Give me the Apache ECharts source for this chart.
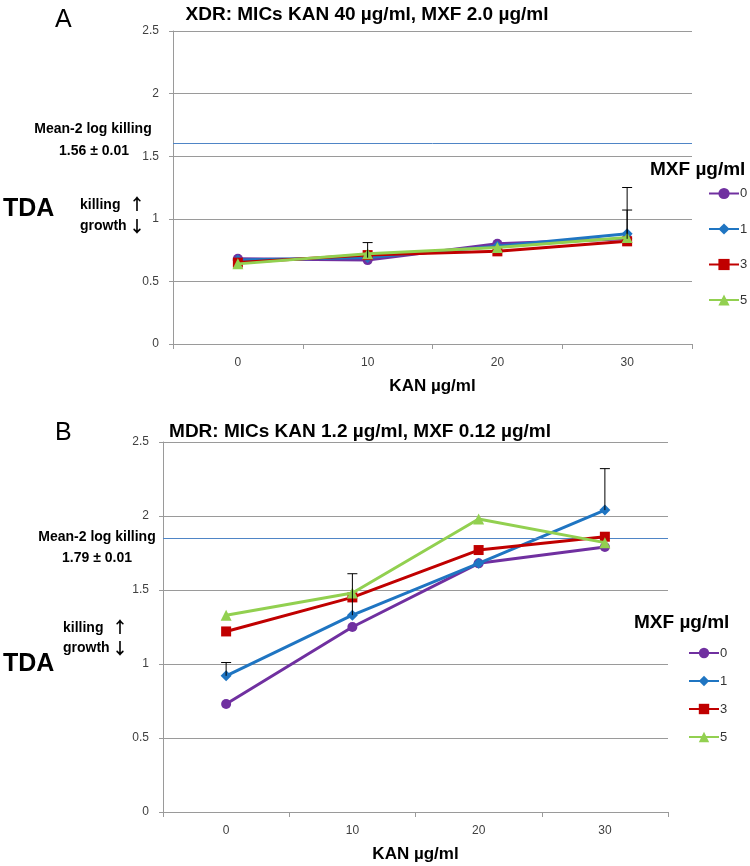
<!DOCTYPE html>
<html>
<head>
<meta charset="utf-8">
<script src="https://cdn.jsdelivr.net/npm/echarts@6/dist/echarts.min.js"></script>
<style>html,body{margin:0;padding:0;background:#fff}#c{width:750px;height:866px}</style>
</head>
<body>
<div id="c"></div>
<script>
// ---- data ----
const categories = ['0', '10', '20', '30'];
const mxfNames = ['0', '1', '3', '5'];
const yTicks = [0, 0.5, 1, 1.5, 2, 2.5];

// Panel A (XDR)
const A_mxf0 = [0.68, 0.67, 0.80, 0.84];
const A_mxf1 = [0.67, 0.69, 0.78, 0.88];
const A_mxf3 = [0.65, 0.71, 0.74, 0.82];
const A_mxf5 = [0.64, 0.72, 0.77, 0.85];
const A_err1Top = [null, 0.81, null, 1.25];
const A_err0Top = [null, null, null, 1.07];
const A_mean = 1.60;

// Panel B (MDR)
const B_mxf0 = [0.73, 1.25, 1.68, 1.79];
const B_mxf1 = [0.92, 1.33, 1.68, 2.04];
const B_mxf3 = [1.22, 1.45, 1.77, 1.86];
const B_mxf5 = [1.33, 1.48, 1.98, 1.82];
const B_err1Top = [1.01, 1.61, null, 2.32];
const B_mean = 1.85;

// ---- styles ----
const FONT = 'Liberation Sans';
const colors = ['#7030A0', '#1F75C2', '#C00000', '#92D050'];
const symbols = ['circle', 'diamond', 'rect', 'triangle'];
const symSizes = [10, 11, 10, 11];
const gridGrey = '#9a9a9a';

const chart = echarts.init(document.getElementById('c'), null, {renderer: 'canvas'});

function lineSeries(name, data, i, axisIdx, meanVal) {
  const s = {
    name: name, type: 'line', data: data,
    xAxisIndex: axisIdx, yAxisIndex: axisIdx,
    symbol: symbols[i], symbolSize: symSizes[i],
    lineStyle: {color: colors[i], width: 3},
    itemStyle: {color: colors[i]},
    z: 3 + i, animation: false
  };
  if (meanVal !== undefined) {
    s.markLine = {
      silent: true, symbol: 'none', label: {show: false},
      lineStyle: {color: '#4f85c6', width: 1, type: 'solid'},
      data: [{yAxis: meanVal}]
    };
  }
  return s;
}

function errSeries(name, base, tops, axisIdx) {
  const d = [];
  tops.forEach((t, k) => { if (t !== null) d.push([k, base[k], t]); });
  return {
    name: name, type: 'custom', xAxisIndex: axisIdx, yAxisIndex: axisIdx, z: 10,
    data: d, animation: false, silent: true,
    renderItem: function (params, api) {
      const x = api.value(0);
      const p0 = api.coord([x, api.value(1)]);
      const p1 = api.coord([x, api.value(2)]);
      const w = 5;
      return {
        type: 'group',
        children: [
          {type: 'line', shape: {x1: p0[0], y1: p0[1], x2: p1[0], y2: p1[1]}, style: {stroke: '#000', lineWidth: 1}},
          {type: 'line', shape: {x1: p1[0] - w, y1: p1[1], x2: p1[0] + w, y2: p1[1]}, style: {stroke: '#000', lineWidth: 1}}
        ]
      };
    }
  };
}

function xAxis(gridIndex) {
  return {
    type: 'category', gridIndex: gridIndex, data: categories,
    boundaryGap: true,
    axisLine: {lineStyle: {color: gridGrey, width: 1}},
    axisTick: {show: true, length: 5, interval: 0, lineStyle: {color: gridGrey}},
    axisLabel: {color: '#404040', fontFamily: FONT, fontSize: 12, margin: 13},
    name: 'KAN µg/ml', nameLocation: 'middle', nameGap: 34,
    nameTextStyle: {fontFamily: FONT, fontSize: 17, fontWeight: 'bold', color: '#000'}
  };
}
function yAxis(gridIndex) {
  return {
    type: 'value', gridIndex: gridIndex, min: yTicks[0], max: yTicks[yTicks.length - 1], interval: 0.5,
    axisLine: {show: true, lineStyle: {color: gridGrey, width: 1}},
    axisTick: {show: true, length: 4, lineStyle: {color: gridGrey}},
    axisLabel: {color: '#404040', fontFamily: FONT, fontSize: 12, margin: 14},
    splitLine: {show: true, lineStyle: {color: gridGrey, width: 1.2}}
  };
}

function txt(x, y, s, size, bold, align, font) {
  return {type: 'text', x: x, y: y, z: 100, style: {text: s, fontFamily: font || FONT, fontSize: size,
    fontWeight: bold ? 'bold' : 'normal', fill: '#000', textAlign: align || 'left', textVerticalAlign: 'middle'}};
}

const ARROW_FONT = 'Noto Sans CJK SC';

const option = {
  backgroundColor: '#fff',
  animation: false,
  grid: [
    {left: 173, right: 58, top: 31, bottom: 522},
    {left: 163, right: 82, top: 442, bottom: 54}
  ],
  xAxis: [xAxis(0), xAxis(1)],
  yAxis: [yAxis(0), yAxis(1)],
  legend: [
    {orient: 'vertical', left: 703, top: 182, itemWidth: 30, itemHeight: 14, itemGap: 22.5,
      data: mxfNames, textStyle: {fontFamily: FONT, fontSize: 13, color: '#333', padding: [0, 0, 0, -4]}, selectedMode: false},
    {orient: 'vertical', left: 683, top: 641.5, itemWidth: 30, itemHeight: 13, itemGap: 15,
      data: mxfNames, textStyle: {fontFamily: FONT, fontSize: 13, color: '#333', padding: [0, 0, 0, -4]}, selectedMode: false}
  ],
  series: [
    lineSeries(mxfNames[0], A_mxf0, 0, 0, A_mean),
    lineSeries(mxfNames[1], A_mxf1, 1, 0),
    lineSeries(mxfNames[2], A_mxf3, 2, 0),
    lineSeries(mxfNames[3], A_mxf5, 3, 0),
    errSeries('errA1', A_mxf1, A_err1Top, 0),
    errSeries('errA0', A_mxf0, A_err0Top, 0),
    lineSeries(mxfNames[0], B_mxf0, 0, 1, B_mean),
    lineSeries(mxfNames[1], B_mxf1, 1, 1),
    lineSeries(mxfNames[2], B_mxf3, 2, 1),
    lineSeries(mxfNames[3], B_mxf5, 3, 1),
    errSeries('errB1', B_mxf1, B_err1Top, 1)
  ],
  graphic: [
    txt(55, 20, 'A', 25, false),
    txt(367, 15, 'XDR: MICs KAN 40 µg/ml, MXF 2.0 µg/ml', 19, true, 'center'),
    txt(93, 129, 'Mean-2 log killing', 14, true, 'center'),
    txt(94, 151, '1.56 ± 0.01', 14, true, 'center'),
    txt(3, 209, 'TDA', 25, true),
    txt(80, 205, 'killing', 14, true),
    txt(80, 226, 'growth', 14, true),
    txt(129, 204, '↑', 16, true, 'left', ARROW_FONT),
    txt(129, 226, '↓', 16, true, 'left', ARROW_FONT),
    txt(650, 170, 'MXF µg/ml', 19, true),

    txt(55, 433, 'B', 25, false),
    txt(360, 432, 'MDR: MICs KAN 1.2 µg/ml, MXF 0.12 µg/ml', 19, true, 'center'),
    txt(97, 537, 'Mean-2 log killing', 14, true, 'center'),
    txt(97, 558, '1.79 ± 0.01', 14, true, 'center'),
    txt(3, 664, 'TDA', 25, true),
    txt(63, 628, 'killing', 14, true),
    txt(63, 648, 'growth', 14, true),
    txt(112, 627, '↑', 16, true, 'left', ARROW_FONT),
    txt(112, 648, '↓', 16, true, 'left', ARROW_FONT),
    txt(634, 623, 'MXF µg/ml', 19, true)
  ]
};
chart.setOption(option);
</script>
</body>
</html>
